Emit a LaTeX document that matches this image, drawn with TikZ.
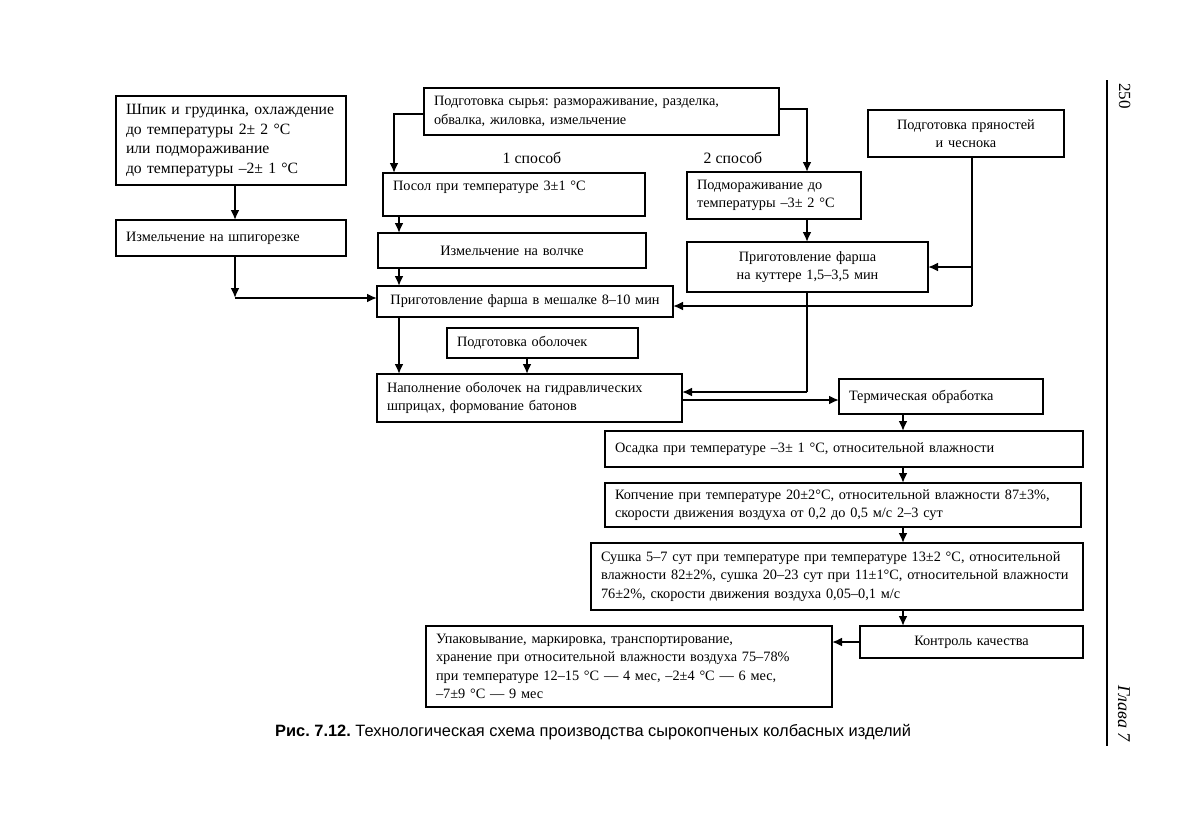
\documentclass[tikz,border=0pt]{standalone}
\usepackage{fontspec}
\setmainfont{Liberation Serif}
\setsansfont{Liberation Sans}
\usetikzlibrary{arrows.meta,calc}
\frenchspacing
\tikzset{
  box/.style={draw, line width=2.2pt, inner xsep=10pt, inner ysep=2pt, outer sep=0pt,
    font=\fontsize{14.3}{18.5}\selectfont},
  arr/.style={line width=2.1pt, -{Latex[length=10pt,width=9pt]}},
  ln/.style={line width=2.1pt},
  lbl/.style={font=\fontsize{15.8}{17}\selectfont, inner sep=0pt},
}
\newcommand\bx[7]{%
  \pgfmathsetmacro\bxw{#4-#2}\pgfmathsetmacro\bxh{#5-#3}\pgfmathsetmacro\bxt{#4-#2-20}%
  \node[box,minimum width=\bxw pt,minimum height=\bxh pt,text width=\bxt pt,anchor=north west,#6] (#1) at (#2,#3) {#7};}
\begin{document}
\begin{tikzpicture}[x=1pt,y=-1pt]
\useasboundingbox[fill=white] (0,0) rectangle (1200,820);
% boxes
\bx{A}{116}{96}{346}{185}{align=left,font=\fontsize{15.7}{19.5}\selectfont}{Шпик и грудинка, охлаждение\\до температуры 2± 2 °C\\или подмораживание\\до температуры –2± 1 °C}
\bx{B}{116}{220}{346}{256}{align=left}{Измельчение на шпигорезке}
\bx{C}{424}{88}{779}{135}{align=left}{Подготовка сырья: размораживание, разделка,\\обвалка, жиловка, измельчение}
\bx{D}{383}{173}{645}{216}{align=left}{Посол при температуре 3±1 °C\\\mbox{}}
\bx{E}{378}{233}{646}{268}{align=center}{Измельчение на волчке}
\bx{F}{377}{286}{673}{317}{align=center}{Приготовление фарша в мешалке 8–10 мин}
\bx{G}{868}{110}{1064}{157}{align=center}{Подготовка пряностей\\и чеснока}
\bx{H}{687}{172}{861}{219}{align=left}{Подмораживание до\\температуры –3± 2 °C}
\bx{I}{687}{242}{928}{292}{align=center}{Приготовление фарша\\на куттере 1,5–3,5 мин}
\bx{J}{447}{328}{638}{358}{align=left}{Подготовка оболочек}
\bx{K}{377}{374}{682}{422}{align=left}{Наполнение оболочек на гидравлических\\шприцах, формование батонов}
\bx{L}{839}{379}{1043}{414}{align=left}{Термическая обработка}
\bx{M}{605}{431}{1083}{467}{align=left}{Осадка при температуре –3± 1 °C, относительной влажности}
\bx{N}{605}{483}{1081}{527}{align=left}{Копчение при температуре 20±2°C, относительной влажности 87±3\%,\\скорости движения воздуха от 0,2 до 0,5 м/с 2–3 сут}
\bx{O}{591}{543}{1083}{610}{align=left}{Сушка 5–7 сут при температуре при температуре 13±2 °C, относительной\\влажности 82±2\%, сушка 20–23 сут при 11±1°C, относительной влажности\\76±2\%, скорости движения воздуха 0,05–0,1 м/с}
\bx{P}{860}{626}{1083}{658}{align=center}{Контроль качества}
\bx{Q}{426}{626}{832}{707}{align=left}{Упаковывание, маркировка, транспортирование,\\хранение при относительной влажности воздуха 75–78\%\\при температуре 12–15 °C — 4 мес, –2±4 °C — 6 мес,\\–7±9 °C — 9 мес}
% labels
\node[lbl] (s1) at (532,158) {1 способ};
\node[lbl] (s2) at (733,158) {2 способ};
% helper coordinates
\coordinate (xa) at (235,0);
\coordinate (xd) at (394,0);
\coordinate (xe) at (399,0);
\coordinate (xj) at (527,0);
\coordinate (xh) at (807,0);
\coordinate (xg) at (972,0);
\coordinate (xt) at (903,0);
\coordinate (yc1) at (0,114);
\coordinate (yc2) at (0,109);
\coordinate (yf) at (0,298);
\coordinate (yg) at (0,306);
\coordinate (yk) at (0,392);
\coordinate (yl) at (0,400);
\coordinate (ybend) at (235,298);
\coordinate (gcorner) at (972,306);
\coordinate (icorner) at (807,392);
% connectors
\draw[arr] (A.south -| xa) -- (B.north -| xa);
\draw[arr] (B.south -| xa) -- (ybend);
\draw[arr] (ybend) -- (F.west |- yf);
\draw[arr] (C.west |- yc1) -| (D.north -| xd);
\draw[arr] (C.east |- yc2) -| (H.north -| xh);
\draw[arr] (D.south -| xe) -- (E.north -| xe);
\draw[arr] (E.south -| xe) -- (F.north -| xe);
\draw[arr] (F.south -| xe) -- (K.north -| xe);
\draw[arr] (J.south -| xj) -- (K.north -| xj);
\draw[arr] (H.south -| xh) -- (I.north -| xh);
\draw[ln] (G.south -| xg) -- (gcorner);
\draw[arr] (gcorner) -- (F.east |- yg);
\draw[arr] (xg |- I.east) -- (I.east);
\draw[ln] (I.south -| xh) -- (icorner);
\draw[arr] (icorner) -- (K.east |- yk);
\draw[arr] (K.east |- yl) -- (L.west |- yl);
\draw[arr] (L.south -| xt) -- (M.north -| xt);
\draw[arr] (M.south -| xt) -- (N.north -| xt);
\draw[arr] (N.south -| xt) -- (O.north -| xt);
\draw[arr] (O.south -| xt) -- (P.north -| xt);
\draw[arr] (P.west) -- (Q.east |- P.west);
% caption
\node[anchor=base west, inner sep=0pt, font=\sffamily\fontsize{16.4}{18}\selectfont] (cap) at (275,736) {\textbf{Рис. 7.12.} Технологическая схема производства сырокопченых колбасных изделий};
% running head
\coordinate (rl1) at (1107,80);
\coordinate (rl2) at (1107,746);
\draw[line width=2.6pt] (rl1) -- (rl2);
\node[rotate=-90, anchor=base west, inner sep=0pt, font=\fontsize{17}{18}\selectfont] (pg) at (1119,83) {250};
\node[rotate=-90, anchor=base east, inner sep=0pt, font=\itshape\fontsize{18}{20}\selectfont] (ch) at (1118,742) {Глава 7};
\end{tikzpicture}
\end{document}
